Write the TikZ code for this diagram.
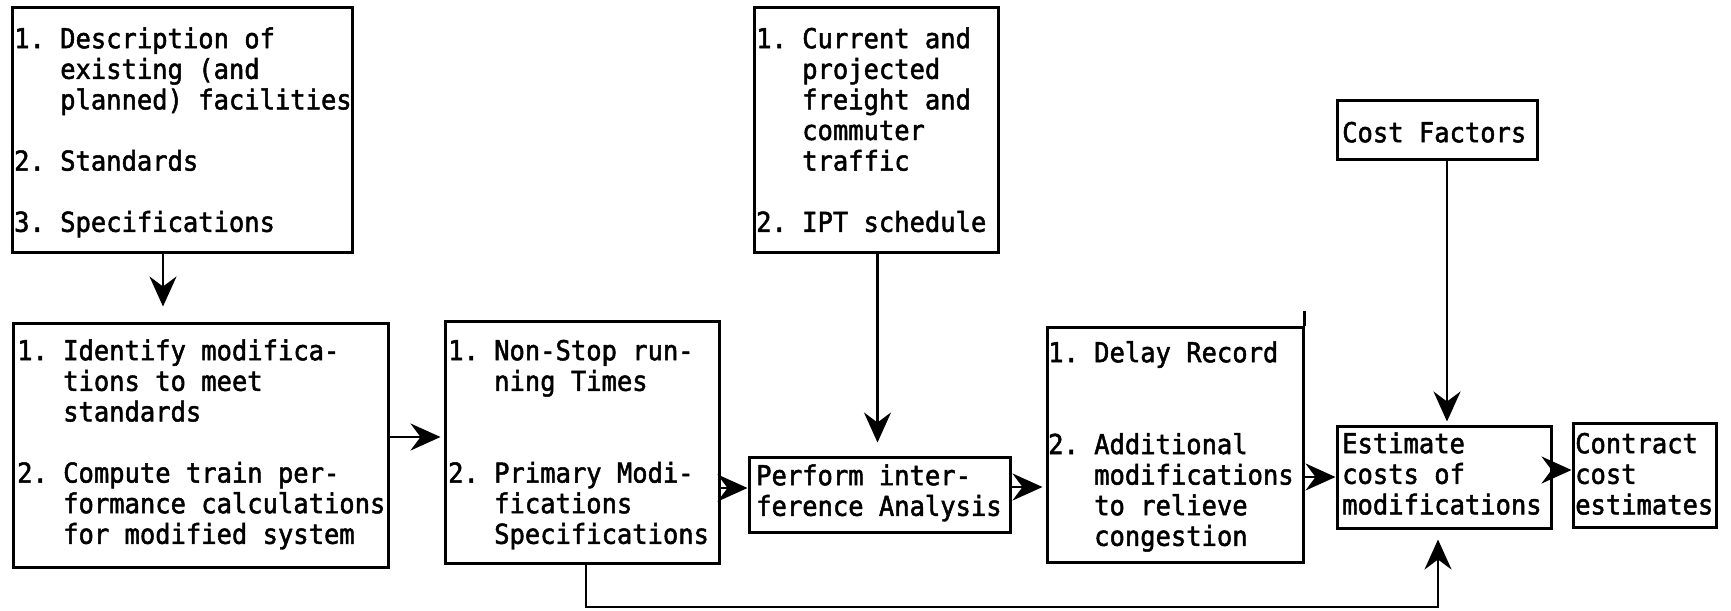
\documentclass[tikz,border=0pt]{standalone}
\usepackage{fontspec}
\newfontfamily\tw{DejaVu Sans Mono}[FakeStretch=0.93,FakeBold=1.8]
\usetikzlibrary{arrows.meta}
% indent of a continuation line: the width of "1. "
\newcommand\ind{\mbox{\phantom{1.}}\ }
% fixes the height of the first line of a text block
\newcommand\firstln{\rule{0pt}{22pt}}

\begin{document}
\begin{tikzpicture}[x=1pt,y=-1pt,
  box/.style={draw, line width=3pt, inner sep=0pt, rectangle},
  txt/.style={font=\tw\fontsize{27.4pt}{30.6pt}\selectfont\frenchspacing, align=left,
              inner sep=0pt, anchor=north west},
  arr/.style={line width=2.4pt, -{Stealth[length=30pt,width=27pt,inset=10pt]}}]
\useasboundingbox (0,0) rectangle (1731,610);

% boxes
\node[box, minimum width=340pt, minimum height=244pt] (A) at (182,130) {};
\node[box, minimum width=375pt, minimum height=244pt] (B) at (200.5,445) {};
\node[box, minimum width=274pt, minimum height=242pt] (C) at (582,442) {};
\node[box, minimum width=261pt, minimum height=75pt]  (D) at (879.5,494.5) {};
\node[box, minimum width=244pt, minimum height=244pt] (E) at (876,130) {};
\node[box, minimum width=256pt, minimum height=235pt] (F) at (1175,444.5) {};
\node[box, minimum width=214pt, minimum height=102pt] (G) at (1444,477) {};
\node[box, minimum width=143pt, minimum height=104pt] (H) at (1644.5,475) {};
\node[box, minimum width=200pt, minimum height=59pt]  (K) at (1437,129.5) {};
\draw[line width=2.4pt] (F.north east) -- ++(0,-15);

% texts
\node[txt] (At) at (14,26) {\firstln 1. Description of\\\ind existing (and\\\ind planned) facilities\\[30.6pt]2. Standards\\[30.6pt]3. Specifications};
\node[txt] (Bt) at (17,338) {\firstln 1. Identify modifica-\\\ind tions to meet\\\ind standards\\[30.6pt]2. Compute train per-\\\ind formance calculations\\\ind for modified system};
\node[txt] (Ct) at (448,338) {\firstln 1. Non-Stop run-\\\ind ning Times\\[61.2pt]2. Primary Modi-\\\ind fications\\\ind Specifications};
\node[txt] (Et) at (756,26) {\firstln 1. Current and\\\ind projected\\\ind freight and\\\ind commuter\\\ind traffic\\[30.6pt]2. IPT schedule};
\node[txt] (Dt) at (756,463) {\firstln Perform inter-\\ference Analysis};
\node[txt] (Ft) at (1048,340) {\firstln 1. Delay Record\\[61.2pt]2. Additional\\\ind modifications\\\ind to relieve\\\ind congestion};
\node[txt] (Gt) at (1342,431) {\firstln Estimate\\costs of\\modifications};
\node[txt] (Ht) at (1575,431) {\firstln Contract\\cost\\estimates};
\node[txt] (Kt) at (1342,120) {\firstln Cost Factors};

% connectors
\draw[arr, shorten >=15pt] ([xshift=-19pt]A.south) -- ([xshift=-19pt]A.south |- B.north);
\draw[arr, shorten >=3pt] ([yshift=8pt]B.east) -- ([yshift=8pt]B.east -| C.west);
\draw[arr] ([yshift=6.5pt]D.west -| C.east) -- ([yshift=6.5pt]D.west);
\draw[arr, shorten >=13pt] ([xshift=-2pt]D.north |- E.south) -- ([xshift=-2pt]D.north);
\draw[arr, shorten >=3pt] ([yshift=7.5pt]D.east) -- ([yshift=7.5pt]D.east -| F.west);
\draw[arr] (F.east |- G.west) -- (G.west);
\draw[arr] ([yshift=7pt]G.east) -- ([yshift=7pt]G.east -| H.west);
\draw[arr, shorten >=3pt] ([xshift=3pt]G.north |- K.south) -- ([xshift=3pt]G.north);
\coordinate (low) at (0,607);
\draw[arr, shorten >=10pt] ([xshift=4pt]C.south) |- ([xshift=-6pt]G.south |- low) -- ([xshift=-6pt]G.south);
\end{tikzpicture}
\end{document}
